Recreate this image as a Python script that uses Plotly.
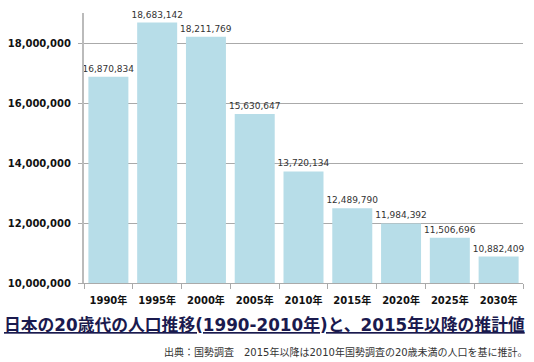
import plotly.graph_objects as go

years = ["1990年", "1995年", "2000年", "2005年", "2010年", "2015年", "2020年", "2025年", "2030年"]
population = [16870834, 18683142, 18211769, 15630647, 13720134, 12489790, 11984392, 11506696, 10882409]
y_ticks = [10000000, 12000000, 14000000, 16000000, 18000000]
title_text = "日本の20歳代の人口推移(1990-2010年)と、2015年以降の推計値"
source_text = "出典：国勢調査　2015年以降は2010年国勢調査の20歳未満の人口を基に推計。"

FONT = "Verdana, 'DejaVu Sans', 'Noto Sans CJK JP', sans-serif"

fig = go.Figure(go.Bar(
    x=years, y=population,
    marker=dict(color="#b7dde8", line=dict(width=0)),
    text=[f"{v:,}" for v in population],
    textposition="outside",
    constraintext="none",
    textfont=dict(family=FONT, size=9, color="#333333"),
    cliponaxis=False,
    hoverinfo="skip",
))

fig.update_layout(
    width=534, height=362,
    margin=dict(l=84, r=11, t=13, b=79),
    plot_bgcolor="white", paper_bgcolor="white",
    bargap=0.18,
    showlegend=False,
    font=dict(family=FONT),
)
fig.update_yaxes(
    range=[10000000, 19000000],
    tickvals=y_ticks,
    ticktext=[f"<b>{v:,}</b>" for v in y_ticks],
    tickfont=dict(family=FONT, size=10, color="#111111"),
    ticklabelstandoff=5,
    automargin=False,
    showgrid=True, gridcolor="#aaaaaa", gridwidth=1,
    showline=True, linecolor="#bbbbbb", linewidth=2,
    ticks="outside", ticklen=4, tickcolor="#aaaaaa",
    zeroline=False,
)
fig.update_xaxes(
    tickvals=years,
    ticktext=[f"<b>{y}</b>" for y in years],
    tickfont=dict(family=FONT, size=10, color="#111111"),
    tickangle=0,
    ticklabelstandoff=8,
    automargin=False,
    showline=True, linecolor="#aaaaaa", linewidth=1,
    ticks="outside", tickson="boundaries", ticklen=5, tickcolor="#aaaaaa",
    showgrid=False,
)

fig.add_annotation(
    text=f"<b><u>{title_text}</u></b>",
    xref="paper", yref="paper", x=-82/439, y=-0.11,
    xanchor="left", yanchor="top", showarrow=False,
    font=dict(family=FONT, size=16.8, color="#1a1a4e"),
)
fig.add_annotation(
    text=source_text,
    xref="paper", yref="paper", x=1.017, y=-0.225,
    xanchor="right", yanchor="top", showarrow=False,
    font=dict(family=FONT, size=10, color="#333333"),
)

fig.write_html("out.html", config={"displayModeBar": False},
               post_script="document.body.style.margin='0';")
